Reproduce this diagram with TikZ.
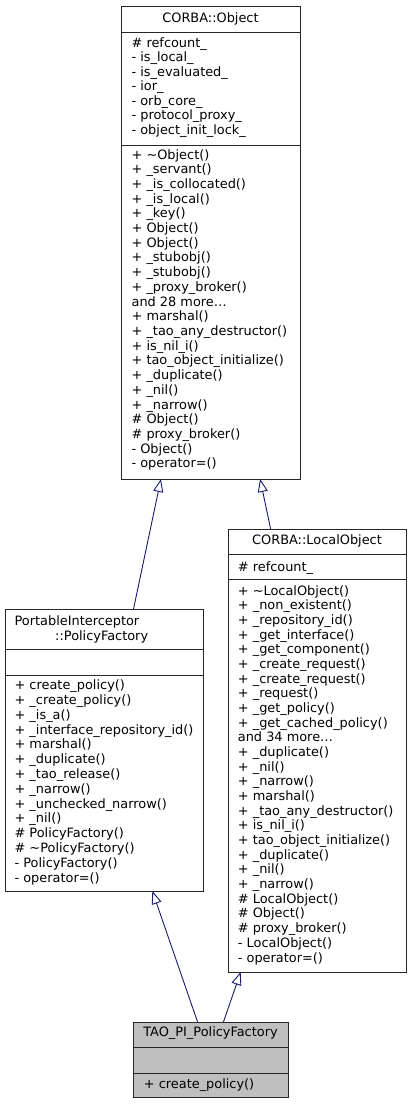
\documentclass[tikz,border=0pt]{standalone}
\usepackage{fontspec}
\setmainfont{DejaVu Sans}
\usetikzlibrary{arrows.meta}
\definecolor{edgeblue}{HTML}{191970}
\tikzstyle{classbox}=[draw=black!85,line width=0.9pt,inner sep=0pt,outer sep=0pt,anchor=north west]
\tikzstyle{sepline}=[black!85,line width=0.9pt]
\tikzstyle{member}=[anchor=base west,inner sep=0pt,font=\fontsize{12.9}{14.7}\selectfont]
\tikzstyle{classname}=[inner sep=0pt,font=\fontsize{12.9}{14.7}\selectfont]
\tikzstyle{inherit}=[edgeblue,line width=0.9pt,-{Triangle[open,length=13pt,width=10pt]}]

\begin{document}
\begin{tikzpicture}[x=1pt,y=-1pt]
		\useasboundingbox (0,0) rectangle (412,1104);

		% class boxes
		\node[classbox,minimum width=179pt,minimum height=473pt] (obj) at (121,6) {};
		\node[classbox,minimum width=178pt,minimum height=443pt] (lobj) at (228,529) {};
		\node[classbox,minimum width=198pt,minimum height=282pt] (pf) at (5,609) {};
		\node[classbox,minimum width=155pt,minimum height=75pt,fill=black!25] (tao) at (133,1022) {};

		\foreach \b / \y in {obj/32,obj/145,lobj/554,lobj/579,pf/649,pf/675,tao/1047,tao/1073} { \draw[sepline] (\b.west |- 0,\y) -- (\b.east |- 0,\y);}

		% class names
		\node[classname] (objname) at (210.5,19) {CORBA::Object};
		\node[classname] (lobjname) at (317,541) {CORBA::LocalObject};
		\node[classname,anchor=west] (pfname1) at (14.4,622) {PortableInterceptor};
		\node[classname] (pfname2) at (101.7,637) {::PolicyFactory};
		\node[classname] (taoname) at (210.5,1033) {TAO\_PI\_PolicyFactory};

		% members
		\foreach \m [count=\i from 0] in {\# refcount\_,- is\_local\_,- is\_evaluated\_,- ior\_,- orb\_core\_,- protocol\_proxy\_,- object\_init\_lock\_} {
			\node[member] (obja\i) at (131.4,{47+14.5*\i}) {\m};
		}
		\foreach \m [count=\i from 0] in {+ \textasciitilde Object(),+ \_servant(),+ \_is\_collocated(),+ \_is\_local(),+ \_key(),+ Object(),+ Object(),+ \_stubobj(),+ \_stubobj(),+ \_proxy\_broker(),and 28 more\ldots,+ marshal(),+ \_tao\_any\_destructor(),+ is\_nil\_i(),+ tao\_object\_initialize(),+ \_duplicate(),+ \_nil(),+ \_narrow(),\# Object(),\# proxy\_broker(),- Object(),- operator=()} {
			\node[member] (objm\i) at (131.4,{159+14.71*\i}) {\m};
		}
		\node[member] (lobja0) at (237.7,571.7) {\# refcount\_};
		\foreach \m [count=\i from 0] in {+ \textasciitilde LocalObject(),+ \_non\_existent(),+ \_repository\_id(),+ \_get\_interface(),+ \_get\_component(),+ \_create\_request(),+ \_create\_request(),+ \_request(),+ \_get\_policy(),+ \_get\_cached\_policy(),and 34 more\ldots,+ \_duplicate(),+ \_nil(),+ \_narrow(),+ marshal(),+ \_tao\_any\_destructor(),+ is\_nil\_i(),+ tao\_object\_initialize(),+ \_duplicate(),+ \_nil(),+ \_narrow(),\# LocalObject(),\# Object(),\# proxy\_broker(),- LocalObject(),- operator=()} {
			\node[member] (lobjm\i) at (237.7,{595+14.68*\i}) {\m};
		}
		\foreach \m [count=\i from 0] in {+ create\_policy(),+ \_create\_policy(),+ \_is\_a(),+ \_interface\_repository\_id(),+ marshal(),+ \_duplicate(),+ \_tao\_release(),+ \_narrow(),+ \_unchecked\_narrow(),+ \_nil(),\# PolicyFactory(),\# \textasciitilde PolicyFactory(),- PolicyFactory(),- operator=()} {
			\node[member] (pfm\i) at (14.4,{689.7+14.8*\i}) {\m};
		}
		\node[member] (taom0) at (143.7,1088) {+ create\_policy()};

		% inheritance
		\draw[inherit] (pf) -- (obj);
		\draw[inherit] (lobj) -- (obj);
		\draw[inherit] (tao) -- (pf);
		\draw[inherit] (tao) -- (lobj);
	\end{tikzpicture}
\end{document}
